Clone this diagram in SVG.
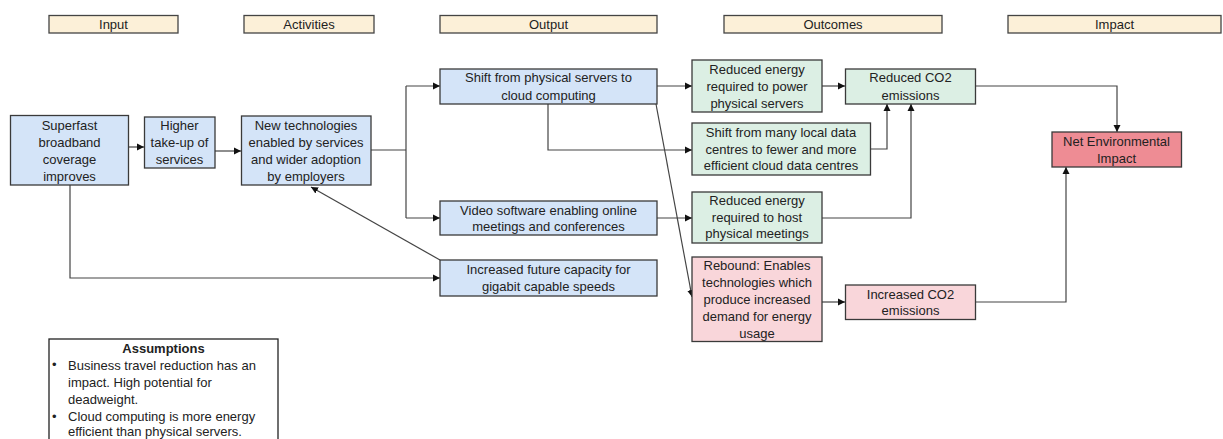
<svg xmlns="http://www.w3.org/2000/svg" width="1223" height="439" viewBox="0 0 1223 439">
<defs>
<marker id="ah" markerWidth="8" markerHeight="8" refX="7" refY="4" orient="auto" markerUnits="userSpaceOnUse">
<path d="M0,0.5 L7,4 L0,7.5 Z" fill="#111"/>
</marker>
<style>
.hd{fill:#FCF0D8;stroke:#444;stroke-width:1.3}
.bl{fill:#D4E4F8;stroke:#3a3a3a;stroke-width:1.3}
.gr{fill:#DCEFE4;stroke:#3a3a3a;stroke-width:1.3}
.pk{fill:#F9D6DA;stroke:#3a3a3a;stroke-width:1.3}
.rd{fill:#EE8C94;stroke:#3a3a3a;stroke-width:1.3}
.wh{fill:#fff;stroke:#222;stroke-width:1.3}
text{font-family:"Liberation Sans",Arial,sans-serif;font-size:13px;fill:#222;text-anchor:middle}
.l{text-anchor:start}
.b{font-weight:bold}
.c{fill:none;stroke:#444;stroke-width:1.2}
.ca{fill:none;stroke:#444;stroke-width:1.2;marker-end:url(#ah)}
</style>
</defs>
<rect width="1223" height="439" fill="#fff"/>

<g id="headers">
<g id="h-input"><rect class="hd" x="49" y="15.5" width="129" height="17.5"/><text x="113.5" y="28.5">Input</text></g>
<g id="h-activities"><rect class="hd" x="244" y="15.5" width="130" height="17.5"/><text x="309" y="28.5">Activities</text></g>
<g id="h-output"><rect class="hd" x="440" y="15.5" width="217" height="17.5"/><text x="548.5" y="28.5">Output</text></g>
<g id="h-outcomes"><rect class="hd" x="724" y="15.5" width="218" height="17.5"/><text x="833" y="28.5">Outcomes</text></g>
<g id="h-impact"><rect class="hd" x="1008" y="15.5" width="213" height="17.5"/><text x="1114.5" y="28.5">Impact</text></g>
</g>

<g id="connectors">
<path class="ca" d="M128,147 H144"/>
<path class="ca" d="M215,151 H241"/>
<path class="c" d="M371,150 H406"/>
<path class="ca" d="M406,86 H440"/>
<path class="c" d="M406,86 V218"/>
<path class="ca" d="M406,218 H440"/>
<path class="ca" d="M70,185 V278 H440"/>
<path class="ca" d="M440,260 L311,187"/>
<path class="ca" d="M657,86 H692"/>
<path class="ca" d="M548,104 V150 H692"/>
<path class="ca" d="M656,104 L692,297"/>
<path class="ca" d="M657,218 H692"/>
<path class="ca" d="M822,86 H845"/>
<path class="ca" d="M870,149 H887 V104"/>
<path class="ca" d="M822,218 H911 V104"/>
<path class="ca" d="M975,86 H1117 V132"/>
<path class="ca" d="M975,302 H1066 V167"/>
<path class="ca" d="M822,302 H845"/>
</g>

<g id="n-superfast"><rect class="bl" x="10.5" y="115.5" width="118" height="69.5"/>
<text x="69.5" y="129.5">Superfast</text><text x="69.5" y="146.5">broadband</text><text x="69.5" y="163.5">coverage</text><text x="69.5" y="180.5">improves</text></g>

<g id="n-higher"><rect class="bl" x="144.5" y="117" width="70.5" height="51"/>
<text x="179.5" y="130">Higher</text><text x="179.5" y="147">take-up of</text><text x="179.5" y="164">services</text></g>

<g id="n-newtech"><rect class="bl" x="241.5" y="116" width="129.5" height="69"/>
<text x="306" y="129.5">New technologies</text><text x="306" y="146.5">enabled  by services</text><text x="306" y="163.5">and wider adoption</text><text x="306" y="180.5">by employers</text></g>

<g id="n-shift-physical"><rect class="bl" x="440" y="69" width="217" height="35"/>
<text x="548.5" y="82">Shift from physical servers to</text><text x="548.5" y="100">cloud computing</text></g>

<g id="n-video"><rect class="bl" x="440" y="201" width="217" height="34"/>
<text x="548.5" y="214.5">Video software enabling online</text><text x="548.5" y="231">meetings and conferences</text></g>

<g id="n-future"><rect class="bl" x="440" y="260" width="217" height="36"/>
<text x="548.5" y="273.5">Increased future capacity for</text><text x="548.5" y="291">gigabit capable speeds</text></g>

<g id="n-red-power"><rect class="gr" x="692" y="60" width="130" height="52"/>
<text x="757" y="73.5">Reduced  energy</text><text x="757" y="91">required to power</text><text x="757" y="107.5">physical servers</text></g>

<g id="n-shift-many"><rect class="gr" x="692" y="123" width="178.5" height="52"/>
<text x="781" y="137">Shift from many local data</text><text x="781" y="153.5">centres to fewer and more</text><text x="781" y="170">efficient cloud data centres</text></g>

<g id="n-red-host"><rect class="gr" x="692" y="192" width="130" height="51"/>
<text x="757" y="205">Reduced  energy</text><text x="757" y="221.5">required to host</text><text x="757" y="238">physical meetings</text></g>

<g id="n-rebound"><rect class="pk" x="692" y="257" width="130" height="84.5"/>
<text x="757" y="269.5">Rebound: Enables</text><text x="757" y="286.5">technologies which</text><text x="757" y="303.5">produce increased</text><text x="757" y="320.5">demand for energy</text><text x="757" y="337.5">usage</text></g>

<g id="n-red-co2"><rect class="gr" x="845.5" y="69" width="130" height="35"/>
<text x="910.5" y="82">Reduced  CO2</text><text x="910.5" y="99.5">emissions</text></g>

<g id="n-inc-co2"><rect class="pk" x="845.5" y="285" width="130" height="34.5"/>
<text x="910.5" y="298.5">Increased  CO2</text><text x="910.5" y="315">emissions</text></g>

<g id="n-net"><rect class="rd" x="1052" y="132" width="129.5" height="35"/>
<text x="1116.5" y="146">Net Environmental</text><text x="1116.5" y="162.5">Impact</text></g>

<g id="assumptions"><rect class="wh" x="49" y="339" width="229" height="110"/>
<text class="b" x="163.5" y="352.5">Assumptions</text>
<text class="l" x="52" y="369">•</text><text class="l" x="68" y="369.5">Business travel  reduction has an</text>
<text class="l" x="68" y="386.5">impact. High potential for</text>
<text class="l" x="68" y="403.5">deadweight.</text>
<text class="l" x="52" y="421">•</text><text class="l" x="68" y="420.5">Cloud computing is more energy</text>
<text class="l" x="68" y="436">efficient than physical servers.</text>
</g>
</svg>
